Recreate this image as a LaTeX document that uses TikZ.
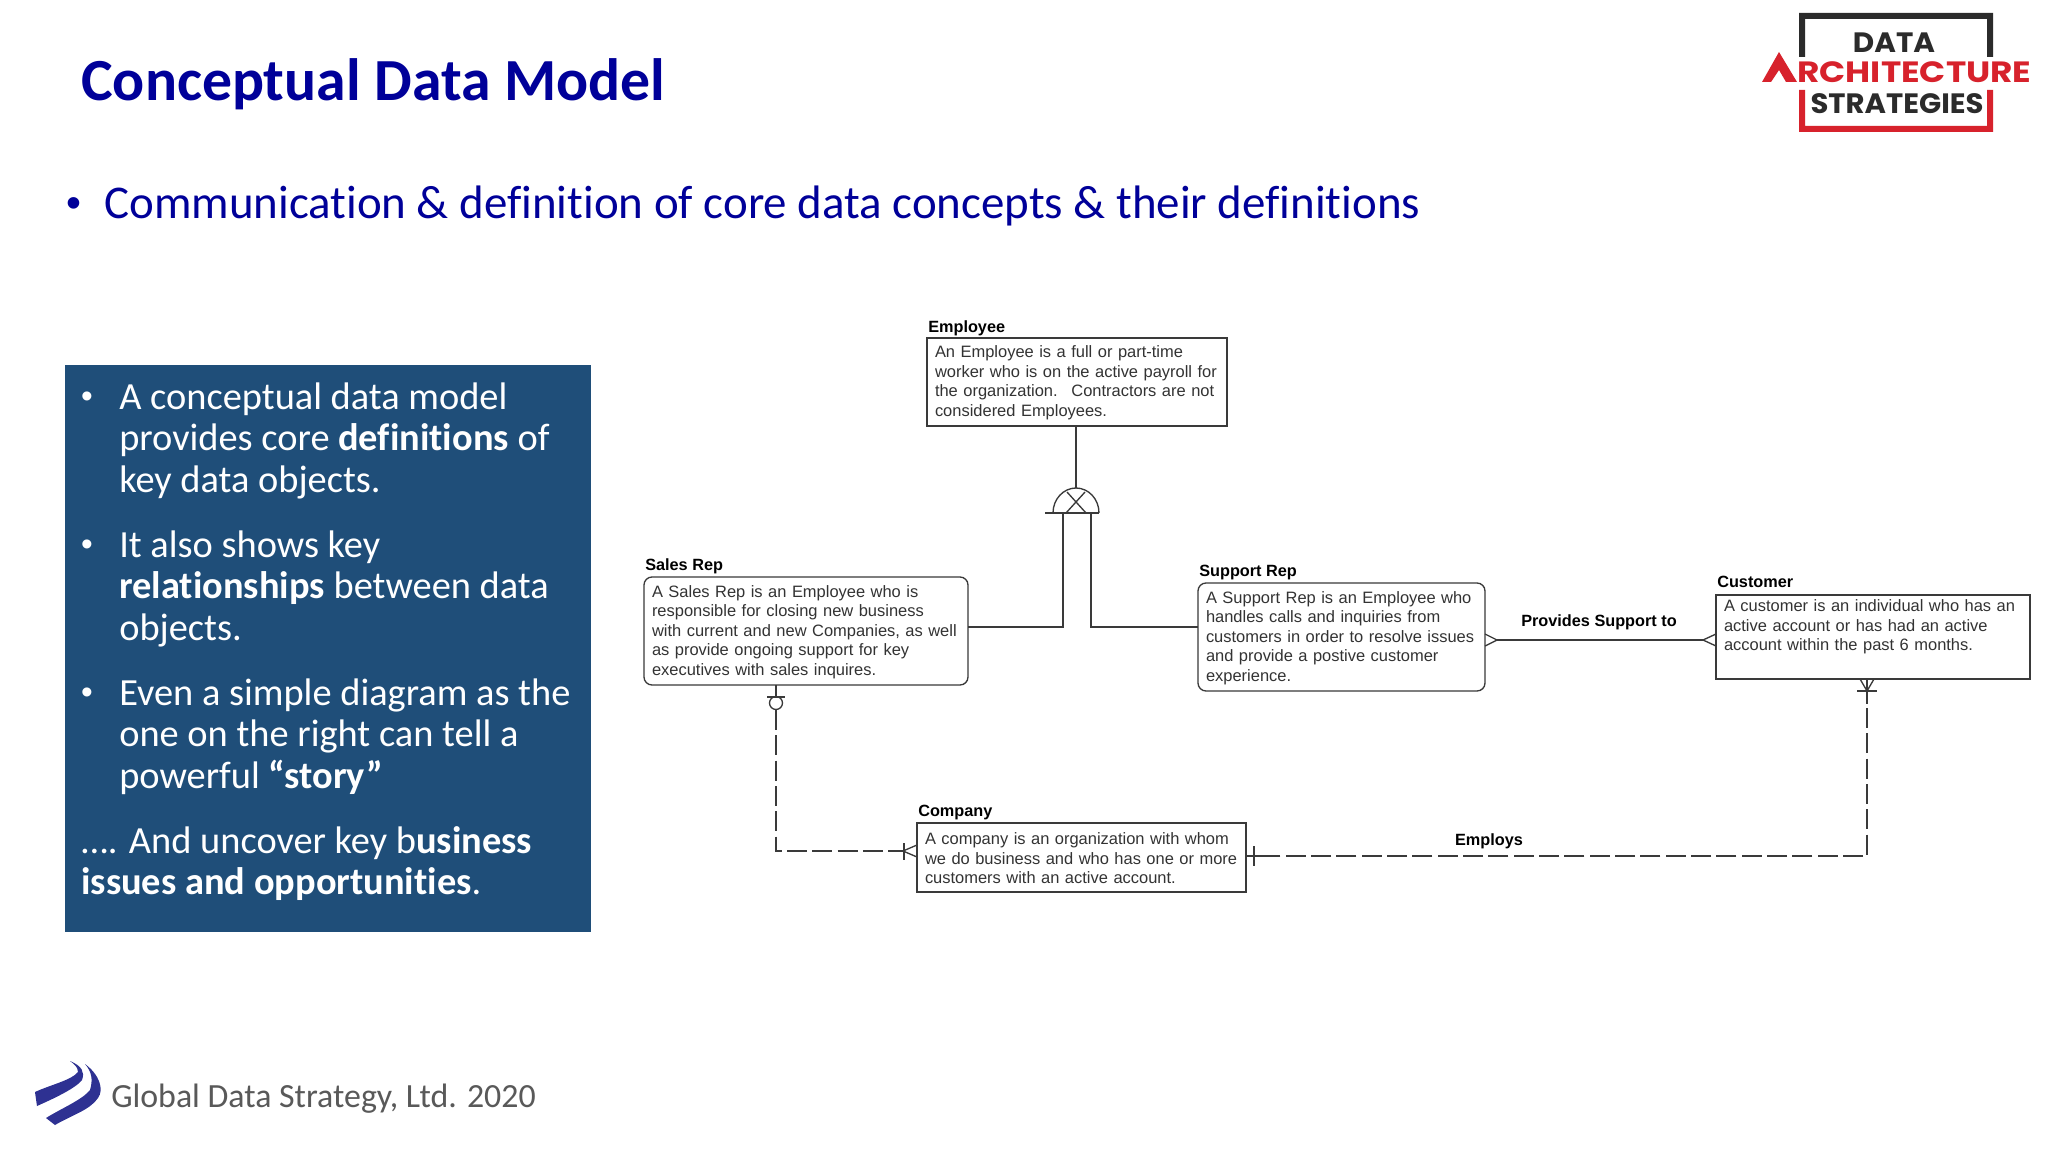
\documentclass[tikz,border=0pt]{standalone}
\usepackage{fontspec}
\setmainfont{Carlito}[Ligatures={NoCommon,NoRequired,NoContextual}]
\newfontfamily\arialf{Liberation Sans}
\newfontfamily\logof{Poppins}
\definecolor{titleblue}{HTML}{000099}
\definecolor{panelblue}{HTML}{1F4E79}
\definecolor{linec}{HTML}{3A3A3A}
\definecolor{entc}{HTML}{333333}
\definecolor{footc}{HTML}{595959}
\definecolor{logored}{HTML}{D7222C}
\definecolor{logodark}{HTML}{2B2B2B}
\definecolor{swoosh}{HTML}{2E3192}
\tikzset{
  x=0.75pt,y=-0.75pt,
  entity/.style={draw=linec,line width=1pt,fill=white,align=left,inner xsep=6pt,inner ysep=0pt,outer sep=0pt,text=entc,
    font=\arialf\fontsize{12.35}{14.6}\selectfont},
  entname/.style={anchor=west,inner sep=0pt,text=black,font=\arialf\bfseries\fontsize{12.2}{14}\selectfont},
  rel/.style={draw=linec,line width=1pt},
  reldash/.style={draw=linec,line width=1pt,dash pattern=on 15pt off 4pt},
  panel/.style={anchor=north west,inner sep=0pt,align=left,text=white,font=\fontsize{28.8}{31.2}\selectfont},
  pbullet/.style={anchor=base,inner sep=0pt,text=white,font=\arialf\fontsize{25}{31.2}\selectfont},
  logotext/.style={inner sep=0pt,font=\logof\bfseries}
}
\begin{document}
\begin{tikzpicture}
\useasboundingbox (0,0) rectangle (2048,1152);
\fill[white] (0,0) rectangle (2048,1152);
% heading
\node[anchor=base west,inner sep=0pt,text=titleblue,font=\bfseries\fontsize{44.8}{50}\selectfont] (title) at (81,101) {Conceptual Data Model};
\node[anchor=base,inner sep=0pt,text=titleblue,font=\arialf\fontsize{32}{36}\selectfont] (subbullet) at (74,218) {•};
\node[anchor=base west,inner sep=0pt,text=titleblue,font=\fontsize{35.2}{36}\selectfont] (subtitle) at (104,219) {Communication \& definition of core data concepts \& their definitions};
% panel
\node[fill=panelblue,minimum width=394.5pt,minimum height=425.25pt,inner sep=0pt,outer sep=0pt] (panelbox) at (328,648.5) {};
\node[pbullet] (b1) at (87,407) {•};
\node[panel] (p1) at (119,380) {\strut A conceptual data model\\provides core \textbf{definitions} of\\key data objects.};
\node[pbullet] (b2) at (87,555) {•};
\node[panel] (p2) at (119,528) {\strut It also shows key\\\textbf{relationships} between data\\objects.};
\node[pbullet] (b3) at (87,703) {•};
\node[panel] (p3) at (119,676) {\strut Even a simple diagram as the\\one on the right can tell a\\powerful \textbf{“story”}};
\node[panel] (p4) at (81,824) {\strut …. And uncover key b\textbf{usiness}\\\textbf{issues and opportunities}.};
% entities
\node[entity,text width=213pt,minimum height=66pt] (employee) at (1077,382) {\strut An Employee is a full or part-time\\worker who is on the active payroll for\\the organization.~ Contractors are not\\considered Employees.};
\node[entname] (employeename) at (928,328) {Employee};
\node[entity,rounded corners=6pt,text width=231pt,minimum height=81pt] (sales) at (806,631) {\strut A Sales Rep is an Employee who is\\responsible for closing new business\\with current and new Companies, as well\\as provide ongoing support for key\\executives with sales inquires.};
\node[entname] (salesname) at (645,566) {Sales Rep};
\node[entity,rounded corners=6pt,text width=203.25pt,minimum height=81pt] (support) at (1341.5,637) {\strut A Support Rep is an Employee who\\handles calls and inquiries from\\customers in order to resolve issues\\and provide a postive customer\\experience.};
\node[entname] (supportname) at (1199,573) {Support Rep};
\node[entity,text width=223.5pt,minimum height=63pt] (customer) at (1873,637) {\strut A customer is an individual who has an\\active account or has had an active\\account within the past 6 months.\\\strut};
\node[entname] (customername) at (1717,582) {Customer};
\node[entity,text width=234.75pt,minimum height=51.75pt] (company) at (1081.5,857.5) {\strut A company is an organization with whom\\we do business and who has one or more\\customers with an active account.};
\node[entname] (companyname) at (918,812) {Company};
% generalisation gate
\coordinate (gatetop) at (1076,488);
\coordinate (gateleft) at (1063,513);
\coordinate (gateright) at (1091,513);
\coordinate (gl) at (1063,627);
\coordinate (gr) at (1091,627);
\draw[rel] (1053,513) arc[start angle=180,end angle=360,x radius=23,y radius=25];
\draw[rel] (1045,513) -- (1099,513);
\draw[rel] (1066,513) -- (1085,492);
\draw[rel] (1086,513) -- (1067,492);
\draw[rel] (gatetop |- employee.south) -- (gatetop);
\draw[rel] (gateleft) -- (gl) -- (gl -| sales.east);
\draw[rel] (gateright) -- (gr) -- (gr -| support.west);
% provides support to
\coordinate (supportfoot) at (1497,640);
\coordinate (customerfoot) at (1703,640);
\draw[rel] (supportfoot) -- (customerfoot);
\draw[rel] (1485,634) -- (supportfoot) -- (1485,646);
\draw[rel] (1716,634) -- (customerfoot) -- (1716,646);
\node[inner sep=0pt,text=black,font=\arialf\bfseries\fontsize{12.2}{14}\selectfont] (providesl) at (1599,622) {Provides Support to};
% employs
\coordinate (custdrop) at (1867,679);
\coordinate (custapex) at (1867,691);
\coordinate (custend) at (1867,704);
\coordinate (corner1) at (1867,856);
\coordinate (compright) at (1263,856);
\draw[rel] (1860,679) -- (custapex) -- (1874,679);
\draw[rel] (custdrop) -- (custend);
\draw[rel] (1857,691) -- (1877,691);
\draw[reldash] (1867,708) -- (corner1) -- (compright);
\draw[rel] (compright) -- (company.east |- compright);
\draw[rel] (1254,846) -- (1254,866);
\node[inner sep=0pt,text=black,font=\arialf\bfseries\fontsize{12.2}{14}\selectfont] (employsl) at (1489,841) {Employs};
% sales to company
\coordinate (salesfoot) at (776,685);
\coordinate (salescirc) at (776,703);
\coordinate (corner2) at (776,851);
\coordinate (compapex) at (903,851);
\draw[rel] (salesfoot) -- (776,697);
\draw[rel] (767,697) -- (785,697);
\draw[rel] (salescirc) circle[radius=6.5];
\draw[reldash] (776,710) -- (corner2) -- (compapex);
\draw[rel] (904,843) -- (904,860);
\draw[rel] (917,845) -- (compapex) -- (917,857);
% logo
\path[fill=logodark] (1799,13) rectangle (1993,19) (1799,13) rectangle (1805,57) (1987,13) rectangle (1993,57);
\path[fill=logored] (1799,90) rectangle (1805,132) (1987,90) rectangle (1993,132) (1799,126) rectangle (1993,132);
\node[logotext,text=logodark,font=\logof\bfseries\fontsize{21}{24}\selectfont,xscale=1.05] (logodata) at (1894,43) {DATA};
\node[logotext,text=logored,anchor=west,font=\logof\bfseries\fontsize{22}{24}\selectfont,xscale=1.17] (logoarch) at (1797,72) {RCHITECTURE};
\node[logotext,text=logodark,font=\logof\bfseries\fontsize{21}{24}\selectfont,xscale=1.04] (logostrat) at (1897,104) {STRATEGIES};
\path[fill=logored] (1762,82) -- (1779,52) -- (1797,82) -- (1786,82) -- (1779,70) -- (1771,82) -- cycle;
% swoosh
\path[fill=swoosh] (70,1061) .. controls (82,1066) and (85,1072) .. (82,1080) .. controls (76,1088) and (55,1098) .. (37,1106) -- (35,1092) .. controls (50,1085) and (72,1080) .. (78,1072) .. controls (78,1067) and (74,1064) .. (70,1061) -- cycle;
\path[fill=swoosh] (85,1064) .. controls (100,1075) and (104,1090) .. (98,1098) .. controls (90,1110) and (72,1115) .. (55,1125) -- (46,1118) .. controls (62,1108) and (82,1100) .. (90,1090) .. controls (93,1080) and (92,1072) .. (85,1064) -- cycle;
\node[anchor=base west,inner sep=0pt,text=footc,font=\fontsize{25.4}{28}\selectfont] (footer) at (111,1107) {Global Data Strategy, Ltd. 2020};
\end{tikzpicture}
\end{document}
